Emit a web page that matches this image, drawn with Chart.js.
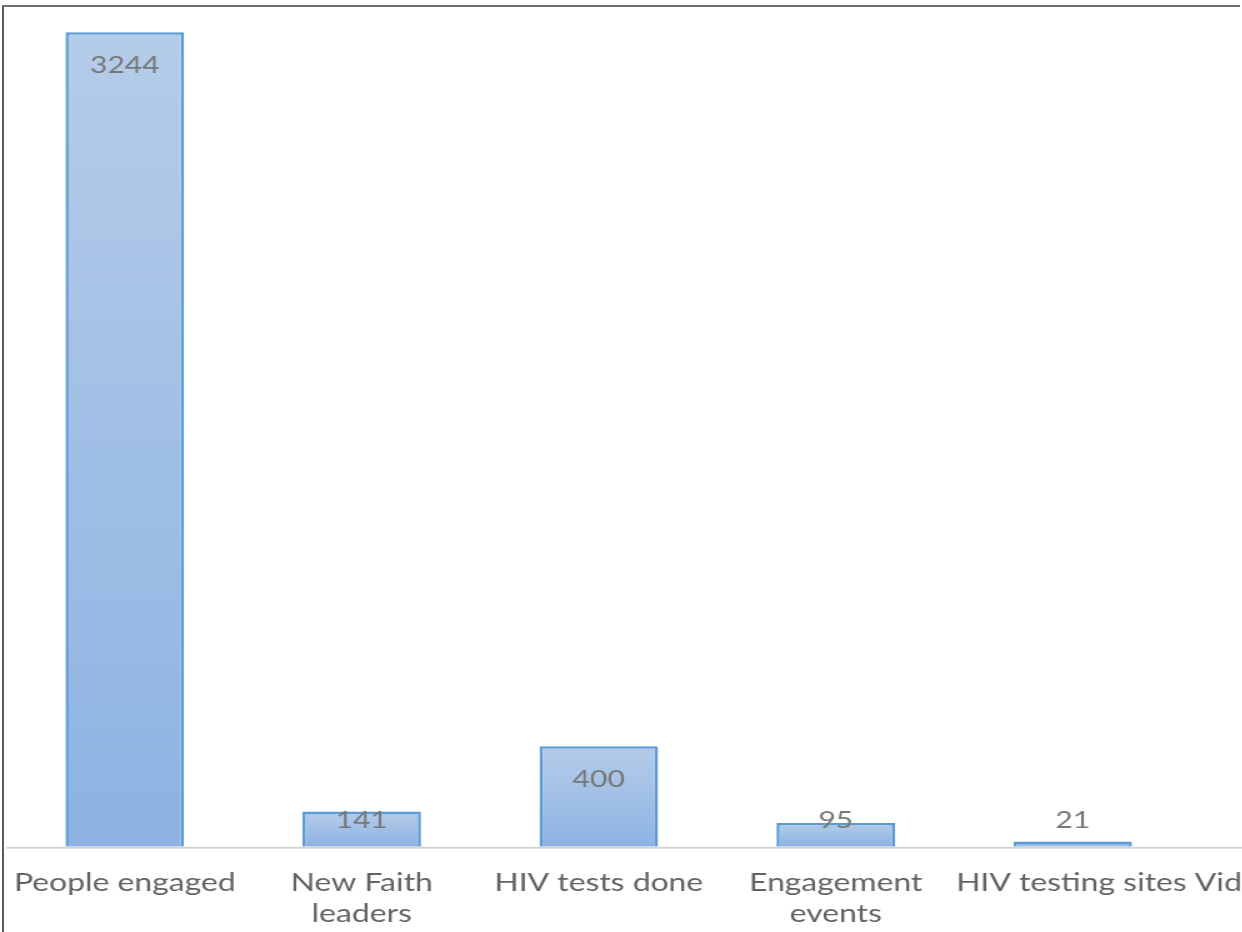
<!DOCTYPE html>
<html>
<head>
<meta charset="utf-8">
<script src="https://cdn.jsdelivr.net/npm/chart.js@4.4.1/dist/chart.umd.min.js"></script>
<style>
  html, body { margin: 0; padding: 0; background: #fff; }
  .page { position: relative; width: 1242px; height: 932px; overflow: hidden; background: #fff; }
  /* chart is laid out narrow and stretched sideways */
  .stage {
    position: absolute; left: 0; top: 0;
    width: 1033px; height: 932px;
    transform: scaleX(1.25); transform-origin: 0 0;
    filter: blur(0.5px);
  }
  .frame-left { position: absolute; left: 2px; top: 5px; width: 2px; height: 927px; background: #5a5a5a; }
  .frame-top { position: absolute; left: 2px; top: 5px; width: 1238px; height: 2px; background: #6e6e6e; }
</style>
</head>
<body>
<div class="page">
  <div class="stage"><canvas id="chart"></canvas></div>
  <div class="frame-left"></div>
  <div class="frame-top"></div>
</div>
<script>
const categories = ["People engaged", ["New Faith", "leaders"], "HIV tests done", ["Engagement", "events"], "HIV testing sites Vid"];
const values = [3244, 141, 400, 95, 21];

const fontFamily = "Lato, Carlito, Calibri, sans-serif";

// each bar gets its own light-to-dark fill
function barGradient(ctx) {
    const chart = ctx.chart;
    if (!chart.chartArea) return "#a3c1e7";
    const y = chart.scales.y;
    const top = y.getPixelForValue(values[ctx.dataIndex]);
    const base = y.getPixelForValue(0);
    const g = chart.ctx.createLinearGradient(0, top, 0, base);
    g.addColorStop(0, "#b5cce9");
    g.addColorStop(1, "#8db3e2");
    return g;
}

// baseline runs past the plot to the edge of the canvas
const baseline = {
    id: "baseline",
    beforeDatasetsDraw(chart) {
        const { ctx, chartArea } = chart;
        const y0 = chart.scales.y.getPixelForValue(0);
        ctx.save();
        ctx.strokeStyle = "#d4d4d4";
        ctx.lineWidth = 2;
        ctx.beginPath();
        ctx.moveTo(chartArea.left, y0 + 1);
        ctx.lineTo(chart.width, y0 + 1);
        ctx.stroke();
        ctx.restore();
    }
};

// the last category name is long, nudge it right so it clears its neighbour
const lastLabelNudge = {
    id: "lastLabelNudge",
    afterUpdate(chart) {
        const items = chart.scales.x.getLabelItems();
        const last = items[items.length - 1];
        if (last) last.options.translation[0] += 21;
    }
};

// value labels sit inside the top of the bar, kept clear of the baseline
const valueLabels = {
    id: "valueLabels",
    afterDatasetsDraw(chart) {
        const { ctx } = chart;
        const base = chart.scales.y.getPixelForValue(0);
        ctx.save();
        ctx.font = `24px ${fontFamily}`;
        ctx.fillStyle = "#777";
        ctx.textAlign = "center";
        ctx.textBaseline = "middle";
        chart.getDatasetMeta(0).data.forEach((bar, i) => {
            const y = Math.min(bar.y + 33, base - 27);
            ctx.fillText(String(values[i]), bar.x, y);
        });
        ctx.restore();
    }
};

new Chart(document.getElementById("chart"), {
    type: "bar",
    data: {
        labels: categories,
        datasets: [{
            data: values,
            backgroundColor: barGradient,
            borderColor: "#5b9bd5",
            borderWidth: 2.5,
            categoryPercentage: 1,
            barPercentage: 0.5
        }]
    },
    options: {
        responsive: true,
        maintainAspectRatio: false,
        animation: false,
        layout: { padding: { left: 5, right: 80, top: 7, bottom: 3 } },
        plugins: {
            legend: { display: false },
            tooltip: { enabled: false }
        },
        scales: {
            x: {
                grid: { display: false, drawTicks: true, tickLength: 20 },
                border: { display: false },
                ticks: {
                    color: "#626262",
                    padding: 0,
                    maxRotation: 0,
                    autoSkip: false,
                    font: { family: fontFamily, size: 25.5, lineHeight: 1.22 }
                }
            },
            y: {
                display: false,
                min: 0,
                max: 3345
            }
        }
    },
    plugins: [baseline, lastLabelNudge, valueLabels]
});
</script>
</body>
</html>
